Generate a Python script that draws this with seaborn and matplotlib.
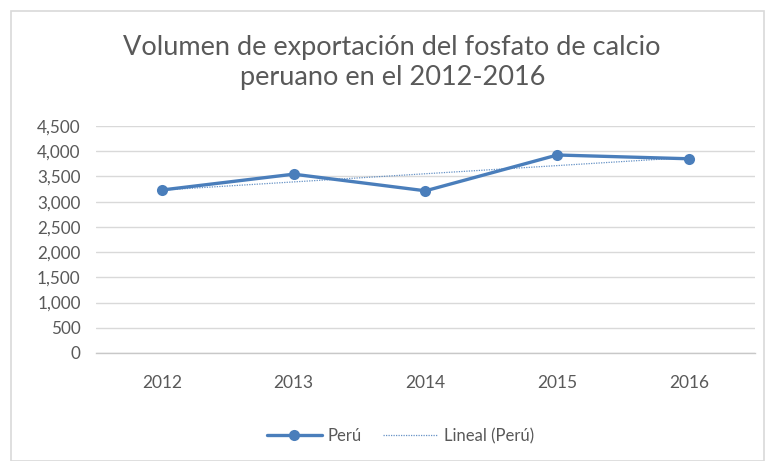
import numpy as np
import pandas as pd
import matplotlib
matplotlib.use("Agg")
import matplotlib.pyplot as plt
import seaborn as sns
from matplotlib.lines import Line2D
from matplotlib.patches import Rectangle
from matplotlib.ticker import FuncFormatter

years = ["2012", "2013", "2014", "2015", "2016"]
peru = [3231, 3545, 3215, 3925, 3850]
yticks = [0, 500, 1000, 1500, 2000, 2500, 3000, 3500, 4000, 4500]

title = "Volumen de exportación del fosfato de calcio\nperuano en el 2012-2016"
series_label = "Perú"
trend_label = "Lineal (Perú)"

sns.set_theme(style="white")
plt.rcParams["font.family"] = ["Lato", "DejaVu Sans"]

blue = "#4A7EBB"
gray_text = "#595959"
grid_col = "#D9D9D9"

df = pd.DataFrame({"year": years, "value": peru})
df["x"] = np.arange(len(years))

fig = plt.figure(figsize=(7.66, 4.61), dpi=100)
ax = fig.add_axes([0.1253, 0.2343, 0.8603, 0.4924])

# trendline (linear fit)
coef = np.polyfit(df["x"], df["value"], 1)
trend = np.polyval(coef, df["x"])
ax.plot(df["x"], trend, color=blue, lw=0.9, ls=(0, (1, 1)), zorder=2, alpha=0.85)

sns.lineplot(data=df, x="x", y="value", ax=ax, color=blue, lw=2.4,
             marker="o", markersize=8, markeredgewidth=0, zorder=3)

ax.set_xlim(-0.5, len(years) - 0.5)
ax.set_ylim(0, 4500)
ax.set_yticks(yticks)
ax.yaxis.set_major_formatter(FuncFormatter(lambda v, p: f"{int(v):,}"))
ax.set_xticks(df["x"])
ax.set_xticklabels(years)
ax.grid(axis="y", color=grid_col, lw=1.0)
ax.set_axisbelow(True)
for s in ["top", "right", "left"]:
    ax.spines[s].set_visible(False)
ax.spines["bottom"].set_color("#C8C8C8")
ax.spines["bottom"].set_linewidth(1.0)
ax.tick_params(axis="y", length=0, pad=11, labelsize=12.3, labelcolor=gray_text)
ax.tick_params(axis="x", length=0, pad=16, labelsize=12.5, labelcolor=gray_text)
ax.set_xlabel("")
ax.set_ylabel("")

fig.text(0.512, 0.864, title, ha="center", va="center", fontsize=19.5,
         color=gray_text, linespacing=1.28)

handles = [
    Line2D([0], [0], color=blue, lw=2.4, marker="o", markersize=8, markeredgewidth=0),
    Line2D([0], [0], color=blue, lw=0.9, ls=(0, (1, 1)), alpha=0.85),
]
fig.legend(handles, [series_label, trend_label], loc="center",
           bbox_to_anchor=(0.523, 0.054), ncol=2, frameon=False,
           fontsize=12, labelcolor=gray_text, handlelength=3.3,
           columnspacing=1.26, handletextpad=0.36)

fig.patches.append(Rectangle((11 / 766, 0), 753 / 766, 1 - 11 / 461,
                             transform=fig.transFigure, fill=False,
                             edgecolor="#D9D9D9", lw=1.2))

fig.savefig("out.png", dpi=100)
